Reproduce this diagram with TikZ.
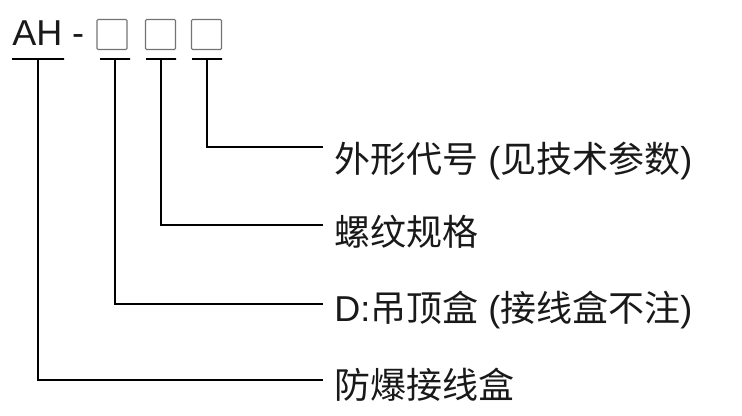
\documentclass[tikz,border=0pt]{standalone}
\usepackage{fontspec}
\setmainfont{Liberation Sans}
\newfontfamily\zh{Noto Sans CJK SC}
\tikzset{
  slot/.style={draw=black!55, line width=0.8pt, rounded corners=0.8pt, minimum size=22.5pt, inner sep=0pt},
  uline/.style={draw, line width=1.2pt, minimum height=0pt, inner sep=0pt, outer sep=0pt},
  lead/.style={line width=1.1pt},
  lbl/.style={anchor=base west, inner sep=0pt, text=black!90, font=\fontsize{27}{32}\selectfont}
}
\begin{document}
\begin{tikzpicture}[x=0.75pt,y=0.75pt,yscale=-1,xscale=1]
\useasboundingbox (0,0) rectangle (742,416);

% Text Node
\node[lbl] (code) at (12,46) {AH -};
% Boxes
\node[slot] (b1) at (112,34.5) {};
\node[slot] (b2) at (160.5,34.5) {};
\node[slot] (b3) at (206.5,34.5) {};

% Underlines
\node[uline, minimum width=39pt] (u1) at (38,59) {};
\node[uline, minimum width=22.5pt] (u2) at (115,59) {};
\node[uline, minimum width=22.5pt] (u3) at (161,59) {};
\node[uline, minimum width=22.5pt] (u4) at (207,59) {};

% Line ends
\coordinate (e1) at (323,380);
\coordinate (e2) at (323,304);
\coordinate (e3) at (323,225);
\coordinate (e4) at (323,147);

%Straight Lines
\draw[lead] (u1.south) |- (e1);
\draw[lead] (u2.south) |- (e2);
\draw[lead] (u3.south) |- (e3);
\draw[lead] (u4.south) |- (e4);

% Text Node
\node[lbl] (t4) at (334,173) {{\zh 外形代号} ({\zh 见技术参数})};
% Text Node
\node[lbl] (t3) at (334,246) {{\zh 螺纹规格}};
% Text Node
\node[lbl] (t2) at (334,322) {D:{\zh 吊顶盒} ({\zh 接线盒不注})};
% Text Node
\node[lbl] (t1) at (334,398) {{\zh 防爆接线盒}};

\end{tikzpicture}
\end{document}
